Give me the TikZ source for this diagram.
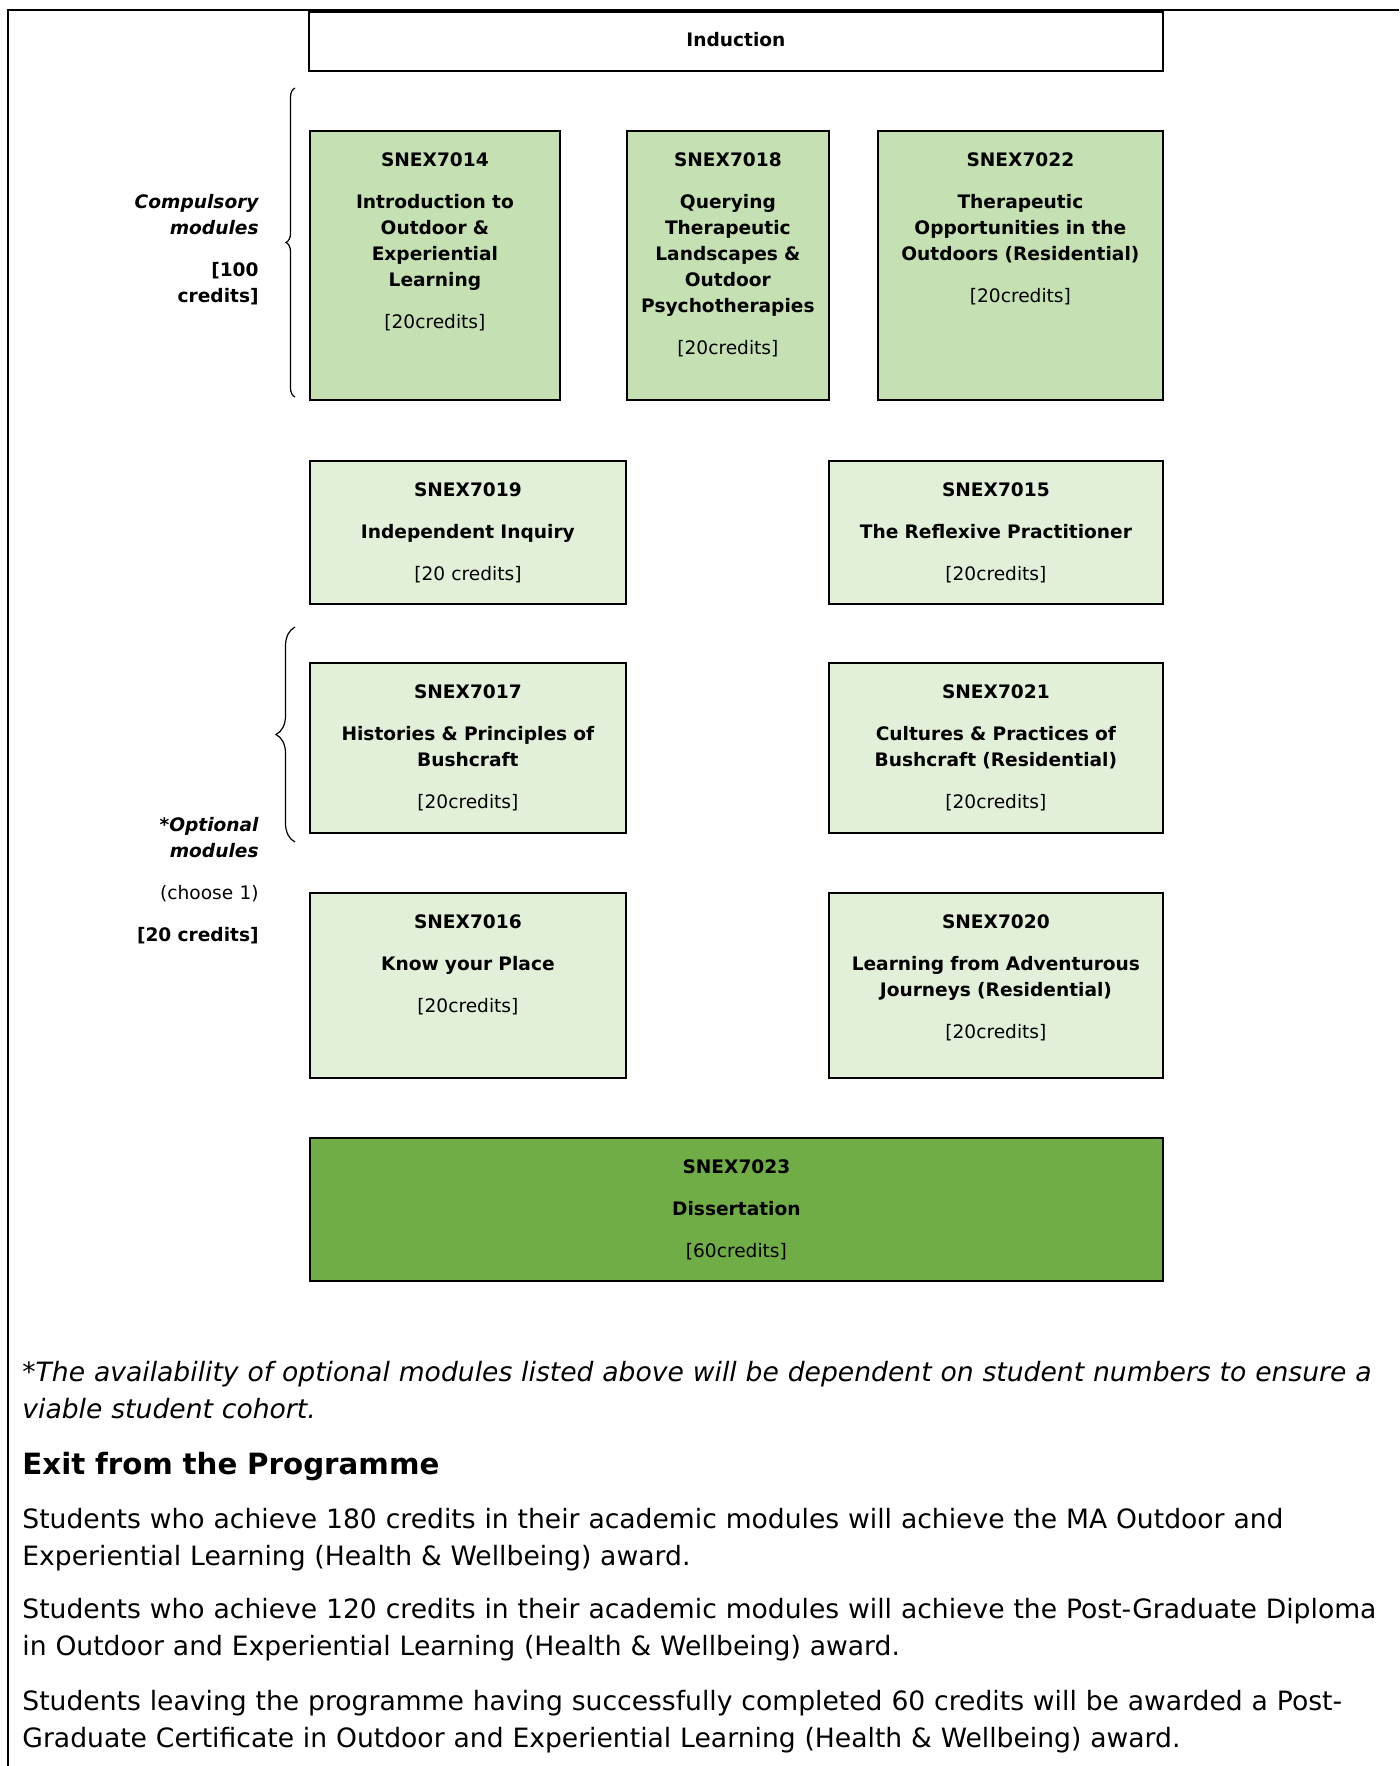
\documentclass[tikz,border=0pt]{standalone}
\usepackage{fontspec}
\setmainfont{DejaVu Sans}
\usetikzlibrary{positioning,decorations.pathreplacing}

\definecolor{compgreen}{HTML}{C5E0B3}
\definecolor{optgreen}{HTML}{E2EFD9}
\definecolor{dissgreen}{HTML}{70AD47}

\tikzset{
    modbox/.style={draw, line width=0.9pt, anchor=north west, inner sep=0pt},
    modtext/.style={align=center, text width=170pt, inner sep=0pt, font=\fontsize{9.3}{13}\selectfont},
    sidetext/.style={anchor=north east, align=right, text width=90pt, inner sep=0pt, font=\fontsize{9.3}{13}\selectfont},
    bodytext/.style={anchor=north west, align=left, text width=730pt, inner sep=0pt, font=\fontsize{13.3}{18.5}\selectfont},
    sidebrace/.style={decorate, decoration={brace, amplitude=#1}, line width=0.6pt},
}

\begin{document}
\begin{tikzpicture}[x=0.5pt, y=-0.5pt]
    \useasboundingbox (0,0) rectangle (1399,1766);

    % Frame
    \coordinate (corner) at (8,10);
    \draw[line width=1pt] (1399,10) -- (corner) -- (8,1766);

    % Induction
    \node[modbox, minimum width=427pt, minimum height=29.5pt] (induction) at (308,11) {};
    \node[modtext, yshift=1pt] (inductiontxt) at (induction.center) {\bfseries Induction};

    % Compulsory modules
    \node[modbox, fill=compgreen, minimum width=125pt, minimum height=134.5pt] (m7014) at (309,130) {};
    \node[modtext, below=11pt of m7014.north] (t7014) {\bfseries SNEX7014\\[8pt] Introduction to\\ Outdoor \&\\ Experiential\\ Learning\\[8pt] \mdseries{[20credits]}};

    \node[modbox, fill=compgreen, minimum width=101pt, minimum height=134.5pt] (m7018) at (626,130) {};
    \node[modtext, below=11pt of m7018.north] (t7018) {\bfseries SNEX7018\\[8pt] Querying\\ Therapeutic\\ Landscapes \&\\ Outdoor\\ Psychotherapies\\[8pt] \mdseries{[20credits]}};

    \node[modbox, fill=compgreen, minimum width=142.5pt, minimum height=134.5pt] (m7022) at (877,130) {};
    \node[modtext, below=11pt of m7022.north] (t7022) {\bfseries SNEX7022\\[8pt] Therapeutic\\ Opportunities in the\\ Outdoors (Residential)\\[8pt] \mdseries{[20credits]}};

    \node[modbox, fill=optgreen, minimum width=158pt, minimum height=71.5pt] (m7019) at (309,460) {};
    \node[modtext, below=11pt of m7019.north] (t7019) {\bfseries SNEX7019\\[8pt] Independent Inquiry\\[8pt] \mdseries{[20 credits]}};

    \node[modbox, fill=optgreen, minimum width=167pt, minimum height=71.5pt] (m7015) at (828,460) {};
    \node[modtext, below=11pt of m7015.north] (t7015) {\bfseries SNEX7015\\[8pt] The Reflexive Practitioner\\[8pt] \mdseries{[20credits]}};

    % Optional modules
    \node[modbox, fill=optgreen, minimum width=158pt, minimum height=85pt] (m7017) at (309,662) {};
    \node[modtext, below=11pt of m7017.north] (t7017) {\bfseries SNEX7017\\[8pt] Histories \& Principles of\\ Bushcraft\\[8pt] \mdseries{[20credits]}};

    \node[modbox, fill=optgreen, minimum width=167pt, minimum height=85pt] (m7021) at (828,662) {};
    \node[modtext, below=11pt of m7021.north] (t7021) {\bfseries SNEX7021\\[8pt] Cultures \& Practices of\\ Bushcraft (Residential)\\[8pt] \mdseries{[20credits]}};

    \node[modbox, fill=optgreen, minimum width=158pt, minimum height=92.5pt] (m7016) at (309,892) {};
    \node[modtext, below=11pt of m7016.north] (t7016) {\bfseries SNEX7016\\[8pt] Know your Place\\[8pt] \mdseries{[20credits]}};

    \node[modbox, fill=optgreen, minimum width=167pt, minimum height=92.5pt] (m7020) at (828,892) {};
    \node[modtext, below=11pt of m7020.north] (t7020) {\bfseries SNEX7020\\[8pt] Learning from Adventurous\\ Journeys (Residential)\\[8pt] \mdseries{[20credits]}};

    % Dissertation
    \node[modbox, fill=dissgreen, minimum width=426.5pt, minimum height=71.5pt] (m7023) at (309,1137) {};
    \node[modtext, below=11pt of m7023.north] (t7023) {\bfseries SNEX7023\\[8pt] Dissertation\\[8pt] \mdseries{[60credits]}};

    % Side labels and braces
    \draw[sidebrace=4.5pt] (295,397) -- (295,88);
    \node[sidetext] (complabel) at (259,194) {\bfseries\itshape Compulsory\\ modules\\[8pt] \upshape{[100}\\ credits]};

    \draw[sidebrace=9.5pt] (295,842) -- (295,627);
    \node[sidetext] (optlabel) at (259,817) {\bfseries\itshape *Optional\\ modules\\[8pt] \mdseries\upshape (choose 1)\\[8pt] \bfseries{[20 credits]}};

    % Notes below
    \node[bodytext, font=\fontsize{13.3}{18.5}\selectfont\itshape] (footnote) at (22,1361) {*The availability of optional modules listed above will be dependent on student numbers to ensure a\\ viable student cohort.};
    \node[bodytext, font=\fontsize{14.65}{18}\selectfont\bfseries] (exithead) at (22,1452) {Exit from the Programme};
    \node[bodytext] (exitma) at (22,1508) {Students who achieve 180 credits in their academic modules will achieve the MA Outdoor and\\ Experiential Learning (Health \& Wellbeing) award.};
    \node[bodytext] (exitdip) at (22,1598) {Students who achieve 120 credits in their academic modules will achieve the Post-Graduate Diploma\\ in Outdoor and Experiential Learning (Health \& Wellbeing) award.};
    \node[bodytext] (exitcert) at (22,1690) {Students leaving the programme having successfully completed 60 credits will be awarded a Post-\\ Graduate Certificate in Outdoor and Experiential Learning (Health \& Wellbeing) award.};
\end{tikzpicture}
\end{document}
